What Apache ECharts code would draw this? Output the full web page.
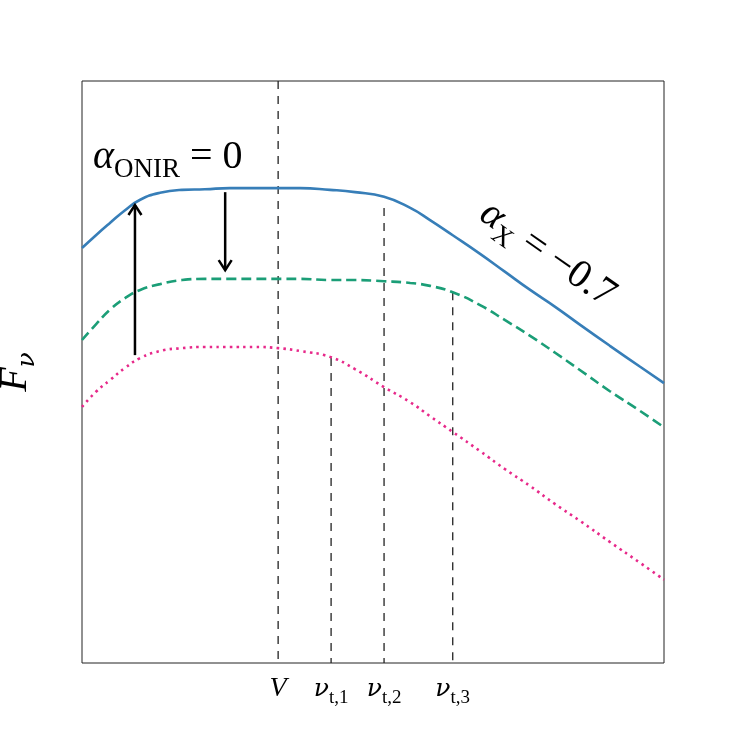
<!DOCTYPE html>
<html><head><meta charset="utf-8">
<script src="https://cdn.jsdelivr.net/npm/echarts@6/dist/echarts.min.js"></script>
<style>html,body{margin:0;padding:0;background:#fff}#c{width:747px;height:747px}</style>
</head><body><div id="c"></div>
<script>
// log-frequency grid (arbitrary units, 0..10)
const xGrid = [0, 0.24, 0.48, 0.74, 1.00, 1.34, 1.72, 2.11, 2.54, 2.97, 3.37, 3.75, 4.26, 4.69, 5.19, 5.64, 5.98, 6.37, 6.84, 7.27, 7.70, 8.13, 8.56, 9.07, 9.59, 10.0];
// log-flux (arbitrary units, 0..10)
const blueFlux  = [7.13, 7.35, 7.56, 7.78, 7.96, 8.08, 8.13, 8.14, 8.16, 8.16, 8.16, 8.16, 8.13, 8.09, 8.01, 7.82, 7.61, 7.35, 7.03, 6.72, 6.41, 6.12, 5.81, 5.45, 5.09, 4.81];
const greenFlux = [5.55, 5.82, 6.07, 6.27, 6.41, 6.51, 6.58, 6.60, 6.60, 6.60, 6.60, 6.60, 6.58, 6.58, 6.56, 6.53, 6.48, 6.37, 6.15, 5.89, 5.62, 5.33, 5.03, 4.67, 4.33, 4.05];
const pinkFlux  = [4.40, 4.66, 4.86, 5.07, 5.24, 5.36, 5.41, 5.43, 5.43, 5.43, 5.41, 5.36, 5.26, 5.05, 4.74, 4.48, 4.24, 3.97, 3.64, 3.33, 3.04, 2.73, 2.44, 2.08, 1.72, 1.43];

// vertical markers
const breakLabels = ['{it|V}', '{nu|ν}{sub|t,1}', '{nu|ν}{sub|t,2}', '{nu|ν}{sub|t,3}'];
const breakX   = [3.37, 4.28, 5.19, 6.37];
const breakTop = [10, 5.24, 7.82, 6.37];

// arrows
const arrowX    = [0.91, 2.46];
const arrowFrom = [5.29, 8.09];
const arrowTo   = [7.87, 6.75];

// annotations
const onirPos = [0.19, 8.64];
const xrayPos = [7.97, 6.98];
const ylabelPos = [-1.10, 5.0];

const SERIF = "'Liberation Serif', 'DejaVu Serif', serif";
const GREEK = "'DejaVu Serif', serif";

const chart = echarts.init(document.getElementById('c'), null, {renderer: 'canvas'});

const pair = arr => xGrid.map((x, i) => [x, arr[i]]);

const option = {
  animation: false,
  backgroundColor: '#fff',
  grid: {left: 82, right: 83, top: 81, bottom: 84, show: true, borderColor: '#222', borderWidth: 1, backgroundColor: 'transparent'},
  xAxis: {
    type: 'value', min: 0, max: 10,
    axisLine: {show: false}, axisTick: {show: false}, splitLine: {show: false},
    axisLabel: {
      customValues: breakX,
      margin: 12,
      color: '#000',
      formatter: v => {
        const i = breakX.findIndex(b => Math.abs(b - v) < 1e-6);
        return i >= 0 ? breakLabels[i] : '';
      },
      rich: {
        it: {fontFamily: SERIF, fontStyle: 'italic', fontSize: 28, color: '#000', verticalAlign: 'top'},
        nu: {fontFamily: GREEK, fontStyle: 'italic', fontSize: 25, color: '#000', verticalAlign: 'top', padding: [2, 0, 0, 0]},
        sub: {fontFamily: SERIF, fontSize: 19, color: '#000', padding: [14, 0, 0, 0]}
      }
    }
  },
  yAxis: {
    type: 'value', min: 0, max: 10,
    axisLine: {show: false}, axisTick: {show: false}, splitLine: {show: false}, axisLabel: {show: false}
  },
  series: [
    {
      type: 'custom', name: 'breaks', z: 1,
      data: breakX.map((x, i) => [x, breakTop[i]]),
      renderItem: (params, api) => {
        const p0 = api.coord([api.value(0), api.value(1)]);
        const p1 = api.coord([api.value(0), 0]);
        return {type: 'line', shape: {x1: p0[0], y1: p0[1], x2: p1[0], y2: p1[1]},
          style: {stroke: '#222', lineWidth: 1.3, lineDash: [8, 7]}};
      }
    },
    {type: 'line', name: 'blue', data: pair(blueFlux), smooth: 0.5, showSymbol: false, z: 3,
      lineStyle: {color: '#377eb8', width: 2.6}},
    {type: 'line', name: 'green', data: pair(greenFlux), smooth: 0.5, showSymbol: false, z: 3,
      lineStyle: {color: '#1b9e77', width: 2.6, type: [10, 5]}},
    {type: 'line', name: 'pink', data: pair(pinkFlux), smooth: 0.5, showSymbol: false, z: 3,
      lineStyle: {color: '#e7298a', width: 2.6, type: [2.5, 4.2]}},
    {
      type: 'custom', name: 'arrows', z: 4,
      data: arrowX.map((x, i) => [x, arrowFrom[i], arrowTo[i]]),
      renderItem: (params, api) => {
        const x = api.value(0);
        const a = api.coord([x, api.value(1)]);
        const b = api.coord([x, api.value(2)]);
        const dir = b[1] < a[1] ? -1 : 1;
        const h = 10, w = 6.5;
        return {type: 'group', children: [
          {type: 'line', shape: {x1: a[0], y1: a[1], x2: b[0], y2: b[1]}, style: {stroke: '#000', lineWidth: 2.5}},
          {type: 'polyline', shape: {points: [[b[0] - w, b[1] - dir * h], [b[0], b[1]], [b[0] + w, b[1] - dir * h]]},
            style: {stroke: '#000', lineWidth: 2.5, fill: null}}
        ]};
      }
    }
  ]
};
chart.setOption(option);

const px = p => chart.convertToPixel({gridIndex: 0}, p);
const p1 = px(onirPos), p2 = px(xrayPos), p3 = px(ylabelPos);
const annRich = {
  a: {fontFamily: SERIF, fontStyle: 'italic', fontSize: 40, fill: '#000', verticalAlign: 'top'},
  s: {fontFamily: SERIF, fontSize: 27, fill: '#000', padding: [19, 0, 0, 0]},
  m: {fontFamily: SERIF, fontSize: 40, fill: '#000', verticalAlign: 'top'}
};
chart.setOption({
  graphic: [
    {type: 'text', x: p1[0], y: p1[1], z: 10,
      style: {text: '{a|α}{s|ONIR}{m| = 0}', align: 'left', verticalAlign: 'middle', rich: annRich}},
    {type: 'text', x: p2[0], y: p2[1], z: 10, rotation: -35 * Math.PI / 180,
      style: {text: '{a|α}{s|X}{m| = −0.7}', align: 'center', verticalAlign: 'middle', rich: annRich}},
    {type: 'text', x: p3[0], y: p3[1], z: 10, rotation: Math.PI / 2,
      style: {text: '{a|F}{s|ν}', align: 'center', verticalAlign: 'middle',
        rich: {
          a: {fontFamily: SERIF, fontStyle: 'italic', fontSize: 40, fill: '#000', verticalAlign: 'top'},
          s: {fontFamily: GREEK, fontStyle: 'italic', fontSize: 25, fill: '#000', padding: [19, 0, 0, 0]}
        }}}
  ]
});
</script>
</body></html>
